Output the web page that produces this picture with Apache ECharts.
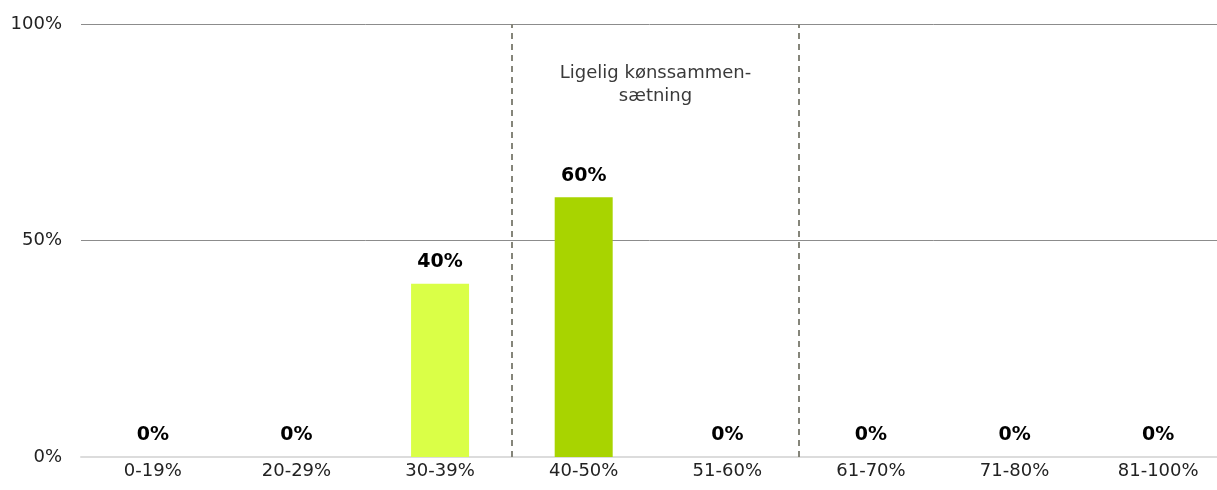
<!DOCTYPE html>
<html>
<head>
<meta charset="utf-8">
<script src="https://cdn.jsdelivr.net/npm/echarts@6/dist/echarts.min.js"></script>
<style>
  html, body { margin: 0; padding: 0; background: #fff; }
  #chart { width: 1217px; height: 490px; }
</style>
</head>
<body>
<div id="chart"></div>
<script>
// Share of boards by proportion of the under-represented gender
const categories = ['0-19%', '20-29%', '30-39%', '40-50%', '51-60%', '61-70%', '71-80%', '81-100%'];
const values = [0, 0, 40, 60, 0, 0, 0, 0];
const barColors = ['#DAFF47', '#DAFF47', '#DAFF47', '#A8D400', '#A8D400', '#A8D400', '#A8D400', '#A8D400'];
const yTicks = [0, 50, 100];
// Boundaries (in category units) of the "equal composition" band
const bandStart = 3;
const bandEnd = 5;
const bandLabel = 'Ligelig kønssammen-\nsætning';

const FONT = "Verdana, 'DejaVu Sans', sans-serif";

const chart = echarts.init(document.getElementById('chart'), null, { renderer: 'canvas' });

chart.setOption({
  animation: false,
  grid: {
    left: 81, width: 1149, top: 24, height: 433,
    containLabel: false, outerBoundsMode: 'none'
  },
  xAxis: [
    {
      type: 'category',
      data: categories,
      axisLine: { show: true, lineStyle: { color: '#dcdcdc', width: 2 } },
      axisTick: { show: false },
      axisLabel: { color: '#222', fontSize: 18, fontFamily: FONT, margin: 5 }
    },
    {
      type: 'value',
      min: 0,
      max: categories.length,
      show: false
    }
  ],
  yAxis: {
    type: 'value',
    min: yTicks[0],
    max: yTicks[yTicks.length - 1],
    interval: 50,
    axisLine: { show: false },
    axisTick: { show: false },
    axisLabel: {
      color: '#222', fontSize: 18, fontFamily: FONT, margin: 19,
      formatter: v => v + '%'
    },
    splitLine: { lineStyle: { color: '#8c8c8c', width: 1 } }
  },
  series: [
    {
      type: 'bar',
      xAxisIndex: 0,
      barWidth: 58,
      data: values.map((v, i) => ({ value: v, itemStyle: { color: barColors[i] } })),
      label: {
        show: true,
        position: 'top',
        distance: 12,
        color: '#000',
        fontSize: 19,
        fontWeight: 'bold',
        fontFamily: FONT,
        formatter: p => p.value + '%'
      },
      z: 3
    },
    {
      type: 'scatter',
      xAxisIndex: 1,
      data: [],
      silent: true,
      markLine: {
        symbol: 'none',
        silent: true,
        label: { show: false },
        lineStyle: { color: '#85857a', type: [6, 5], width: 2 },
        data: [
          [{ coord: [bandStart, 0] }, { coord: [bandStart, 100] }],
          [{ coord: [bandEnd, 0] }, { coord: [bandEnd, 100] }]
        ]
      },
      markArea: {
        silent: true,
        itemStyle: { color: 'rgba(0,0,0,0)' },
        label: {
          show: true,
          position: 'insideTop',
          distance: 38,
          color: '#3a3a3a',
          fontSize: 18,
          lineHeight: 23,
          fontFamily: FONT,
          align: 'center',
          formatter: bandLabel
        },
        data: [[{ coord: [bandStart, 100] }, { coord: [bandEnd, 0] }]]
      }
    }
  ]
});
</script>
</body>
</html>
